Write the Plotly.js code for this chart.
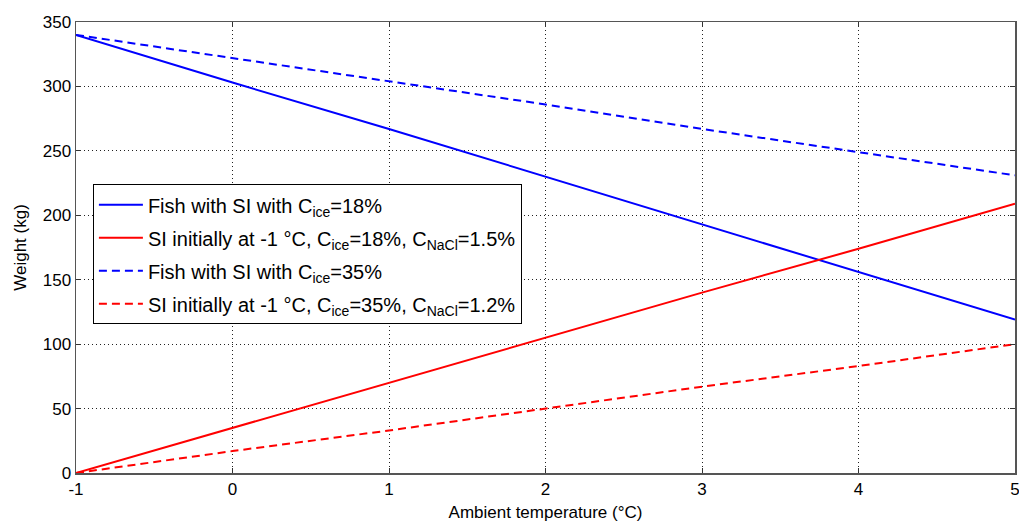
<!DOCTYPE html>
<html>
<head>
<meta charset="utf-8">
<script src="https://cdn.plot.ly/plotly-3.0.1.min.js"></script>
<style>html,body{margin:0;padding:0;background:#fff;}#chart{width:1019px;height:523px;}</style>
</head>
<body>
<div id="chart"></div>
<script>
const temperature = [-1, 0, 1, 2, 3, 4, 5];
const fish18 = [340, 303, 267, 230, 193, 156, 119];
const si18 = [0, 35, 70, 105, 140, 174, 209];
const fish35 = [340, 322, 304, 286, 267, 249, 231];
const si35 = [0, 17, 33, 50, 67, 83, 100];
const names = [
  'Fish with SI with C<sub>ice</sub>=18%',
  'SI initially at -1 °C, C<sub>ice</sub>=18%, C<sub>NaCl</sub>=1.5%',
  'Fish with SI with C<sub>ice</sub>=35%',
  'SI initially at -1 °C, C<sub>ice</sub>=35%, C<sub>NaCl</sub>=1.2%'
];
const xTicks = [-1, 0, 1, 2, 3, 4, 5];
const yTicks = [0, 50, 100, 150, 200, 250, 300, 350];

const traces = [
  {x: temperature, y: fish18, name: names[0], legendgroup: 'g1', mode: 'lines', line: {color: '#0000ff', width: 2}},
  {x: temperature, y: si18, name: names[1], legendgroup: 'g2', mode: 'lines', line: {color: '#ff0000', width: 2}},
  {x: temperature, y: fish35, name: names[2], legendgroup: 'g3', mode: 'lines', line: {color: '#0000ff', width: 2, dash: '8px,5px'}},
  {x: temperature, y: si35, name: names[3], legendgroup: 'g4', mode: 'lines', line: {color: '#ff0000', width: 2, dash: '8px,5px'}}
];

const FONT = 'Liberation Sans, Arial, sans-serif';
const axisCommon = {
  showline: true, mirror: 'ticks', linecolor: '#555', linewidth: 1.5,
  ticks: 'inside', ticklen: 5, tickcolor: '#333',
  showgrid: true, gridcolor: '#222', griddash: '1px,3px', gridwidth: 1,
  zeroline: false, tickfont: {family: FONT, size: 17, color: '#000'},
  ticklabeloverflow: 'allow'
};

const layout = {
  width: 1019, height: 523,
  margin: {l: 76, r: 4, t: 22, b: 50},
  paper_bgcolor: '#fff', plot_bgcolor: '#fff',
  font: {family: FONT, size: 17, color: '#000'},
  xaxis: Object.assign({}, axisCommon, {
    range: [-1.000001, 5.000001], tickvals: xTicks, ticktext: xTicks.map(String),
    title: {text: 'Ambient temperature (°C)', font: {family: FONT, size: 17}, standoff: 8}
  }),
  yaxis: Object.assign({}, axisCommon, {
    range: [0, 350.00001], tickvals: yTicks, ticktext: yTicks.map(String),
    title: {text: 'Weight (kg)', font: {family: FONT, size: 17}, standoff: 12}
  }),
  legend: {
    x: 0.018, y: 0.64, xanchor: 'left', yanchor: 'top',
    bgcolor: '#fff', bordercolor: '#000', borderwidth: 1,
    font: {family: FONT, size: 20}, tracegroupgap: 4, itemwidth: 44
  },
  showlegend: true
};

Plotly.newPlot('chart', traces, layout, {displayModeBar: false, staticPlot: true});
</script>
</body>
</html>
